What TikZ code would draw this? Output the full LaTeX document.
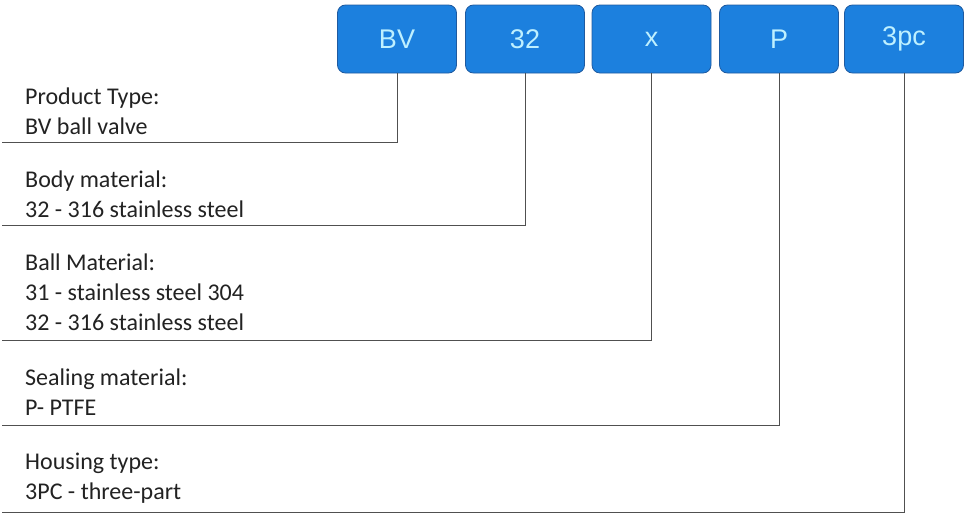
\documentclass[tikz,border=0pt]{standalone}
\usepackage{fontspec}
\setmainfont{Carlito}
\newfontfamily\boxfont{Liberation Sans}
\definecolor{codeblue}{RGB}{28,128,222}
\definecolor{codeedge}{RGB}{30,90,160}
\definecolor{codetext}{RGB}{190,240,255}
\definecolor{labeltext}{RGB}{34,34,34}
\definecolor{rulegray}{RGB}{80,80,80}
\tikzset{
  codebox/.style={draw=codeedge, fill=codeblue, rounded corners=8pt, line width=0.8pt,
    minimum width=119pt, minimum height=68pt, text=codetext,
    font=\boxfont\fontsize{27}{27}\selectfont},
  legend/.style={anchor=base west, align=left, inner sep=0pt, text=labeltext,
    font=\fontsize{24}{30}\selectfont},
  leader/.style={draw=rulegray, line width=1pt}
}
\begin{document}
\begin{tikzpicture}[x=1pt,y=-1pt]
\useasboundingbox (0,0) rectangle (969,514);
\node[codebox] (bv) at (397,39) {BV};
\node[codebox] (size) at (525,39) {32};
\node[codebox] (ball) at (651.5,39) {x};
\node[codebox] (seal) at (779,39) {P};
\node[codebox] (body) at (904,39) {3pc};
% legend nodes sit on the baseline of their last line
\node[legend] (typetxt) at (25,134) {Product Type:\\BV ball valve};
\node[legend] (bodytxt) at (25,217) {Body material:\\32 - 316 stainless steel};
\node[legend] (balltxt) at (25,330) {Ball Material:\\31 - stainless steel 304\\32 - 316 stainless steel};
\node[legend] (sealtxt) at (25,415) {Sealing material:\\P- PTFE};
\node[legend] (housetxt) at (25,499) {Housing type:\\3PC - three-part};
\coordinate (e1) at (2,142);
\coordinate (e2) at (2,225);
\coordinate (e3) at (2,340);
\coordinate (e4) at (2,425);
\coordinate (e5) at (2,512);
\draw[leader] (bv.south) |- (e1);
\draw[leader] (size.south) |- (e2);
\draw[leader] (ball.south) |- (e3);
\draw[leader] (seal.south) |- (e4);
\draw[leader] (body.south) |- (e5);
\end{tikzpicture}
\end{document}
